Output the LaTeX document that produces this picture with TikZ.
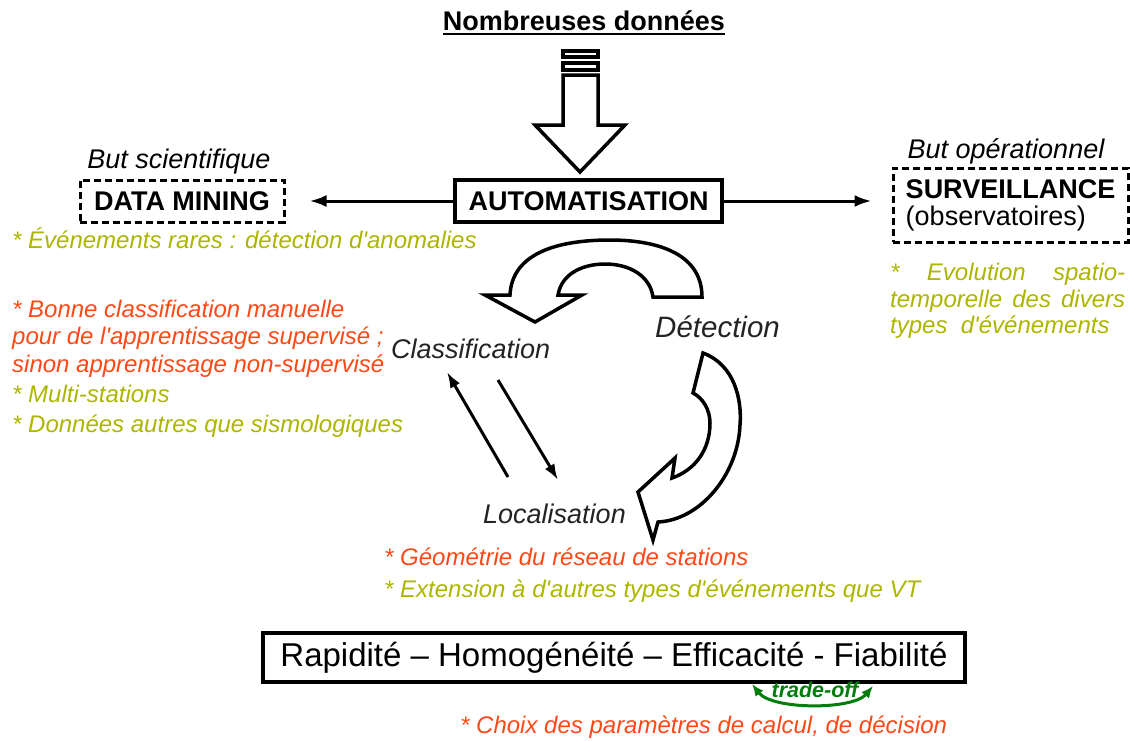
\documentclass[tikz,border=0pt]{standalone}
\usepackage{fontspec}
\setmainfont{Liberation Sans}
\usetikzlibrary{arrows.meta,positioning,calc}
\definecolor{Olive}{RGB}{172,182,0}
\definecolor{OrangeRed}{RGB}{255,72,22}
\definecolor{Ink}{RGB}{35,35,35}
\definecolor{Leaf}{RGB}{0,125,10}
\tikzset{
  >=Latex,
  frame/.style={draw=black,line width=3.5pt,fill=white,inner sep=0pt},
  goalbox/.style={draw=black,line width=3pt,dash pattern=on 7pt off 4pt,inner sep=0pt},
  remark/.style={font=\fontsize{24}{29}\selectfont\itshape,anchor=base west,inner sep=0pt},
  good/.style={remark,text=Olive},
  hard/.style={remark,text=OrangeRed},
  stage/.style={anchor=base west,inner sep=0pt,text=Ink,font=\itshape},
  goal/.style={anchor=base,inner sep=0pt,font=\fontsize{27}{32}\selectfont\itshape},
  link/.style={-{Latex[length=17pt,width=12pt]},line width=3pt},
  cycle arrow/.style={-{Latex[length=16pt,width=11pt]},line width=3pt},
  bigarrow/.style={draw=black,line width=3.5pt,fill=white,line join=miter}
}
\newcommand{\apos}{\textquotesingle}

\begin{document}
\begin{tikzpicture}[x=1pt,y=-1pt]
  \useasboundingbox (0,0) rectangle (1130,740);

  % data input
  \node[anchor=base,inner sep=0pt,font=\bfseries\fontsize{27}{32}\selectfont] (title) at (584,30) {Nombreuses données};
  \draw[line width=2pt] ([yshift=-4pt]title.base west) -- ([yshift=-4pt]title.base east);
  \draw[bigarrow] (563,51) rectangle (598,57);
  \draw[bigarrow] (563,63) rectangle (598,70);
  \draw[bigarrow] (563,75) -- (598,75) -- (598,125) -- (625,125) -- (580,172) -- (535,125) -- (563,125) -- cycle;

  % central box and the two goals
  \node[frame,minimum width=267pt,minimum height=42pt,font=\bfseries\fontsize{27}{30}\selectfont] (auto) at (588.5,201) {AUTOMATISATION};
  \node[goalbox,minimum width=204pt,minimum height=42pt,font=\bfseries\fontsize{27}{30}\selectfont] (mining) at (182,201) {DATA MINING};
  \node[goalbox,minimum width=235pt,minimum height=74pt,align=left,font=\fontsize{27}{27}\selectfont] (watch) at (1010.5,205) {{\bfseries SURVEILLANCE}\\(observatoires)};
  \node[goal] (sci) at (179,168) {But scientifique};
  \node[goal] (ops) at (1006,158) {But opérationnel};
  \draw[link,shorten >=24pt] (auto.west) -- (auto.west -| mining.east);
  \draw[link,shorten >=20pt] (auto.east) -- (auto.east -| watch.west);

  \node[good] (rare) at (12,248) {* Événements rares : détection d\apos anomalies};
  \node[good] (evo1) at (890,280) {\makebox[235pt][s]{* \ Evolution \ spatio-}};
  \node[good] (evo2) at (890,307) {\makebox[235pt][s]{temporelle des divers}};
  \node[good] (evo3) at (890,333) {types \ d\apos événements};

  % processing cycle
  \node[stage,font=\fontsize{27}{30}\selectfont\itshape] (classif) at (391,358) {Classification};
  \node[stage,font=\fontsize{29.5}{32}\selectfont\itshape] (detect) at (655,337) {Détection};
  \node[stage,font=\fontsize{27}{30}\selectfont\itshape] (local) at (483,523) {Localisation};
  \draw[bigarrow] (702,297) .. controls (702,250) and (650,240) .. (610,240)
    .. controls (560,240) and (512,252) .. (510,295) -- (485,295) -- (535,322) -- (582,295) -- (558,295)
    .. controls (562,272) and (585,264) .. (605,264) .. controls (630,264) and (650,276) .. (653,297) -- cycle;
  \draw[bigarrow] (703,353) .. controls (735,365) and (742,400) .. (740,425)
    .. controls (738,475) and (700,520) .. (658,522) -- (653,540) -- (638,492) -- (675,458) -- (672,478)
    .. controls (695,470) and (710,450) .. (710,423) .. controls (710,410) and (703,398) .. (693,393) -- cycle;
  \coordinate (upA) at (447,372);
  \coordinate (upB) at (508,477);
  \coordinate (downA) at (498,380);
  \coordinate (downB) at (558,480);
  \draw[cycle arrow] (upB) -- (upA);
  \draw[cycle arrow] (downA) -- (downB);

  \node[hard] (bonne1) at (12,317) {* Bonne classification manuelle};
  \node[hard] (bonne2) at (12,344) {pour de l\apos apprentissage supervisé ;};
  \node[hard] (bonne3) at (12,372) {sinon apprentissage non-supervisé};
  \node[good] (multi) at (12,402) {* Multi-stations};
  \node[good] (autres) at (12,432) {* Données autres que sismologiques};
  \node[hard] (geo) at (384,565) {* Géométrie du réseau de stations};
  \node[good] (ext) at (384,597) {* Extension à d\apos autres types d\apos événements que VT};

  % criteria
  \node[frame,line width=4pt,minimum width=702pt,minimum height=49pt,font=\fontsize{33}{38}\selectfont] (crit) at (614,657.5) {Rapidité – Homogénéité – Efficacité - Fiabilité};
  \coordinate (tradeL) at (752,684);
  \coordinate (tradeR) at (873,686);
  \draw[Leaf,line width=3pt,{Latex[length=12pt,width=10pt]}-{Latex[length=12pt,width=10pt]}] (tradeL) .. controls (772,710) and (853,710) .. (tradeR);
  \node[inner sep=0pt,text=Leaf,font=\bfseries\itshape\fontsize{21.5}{24}\selectfont] (trade) at (815,690) {trade-off};
  \node[hard] (choix) at (460,733) {* Choix des paramètres de calcul, de décision};
\end{tikzpicture}
\end{document}
